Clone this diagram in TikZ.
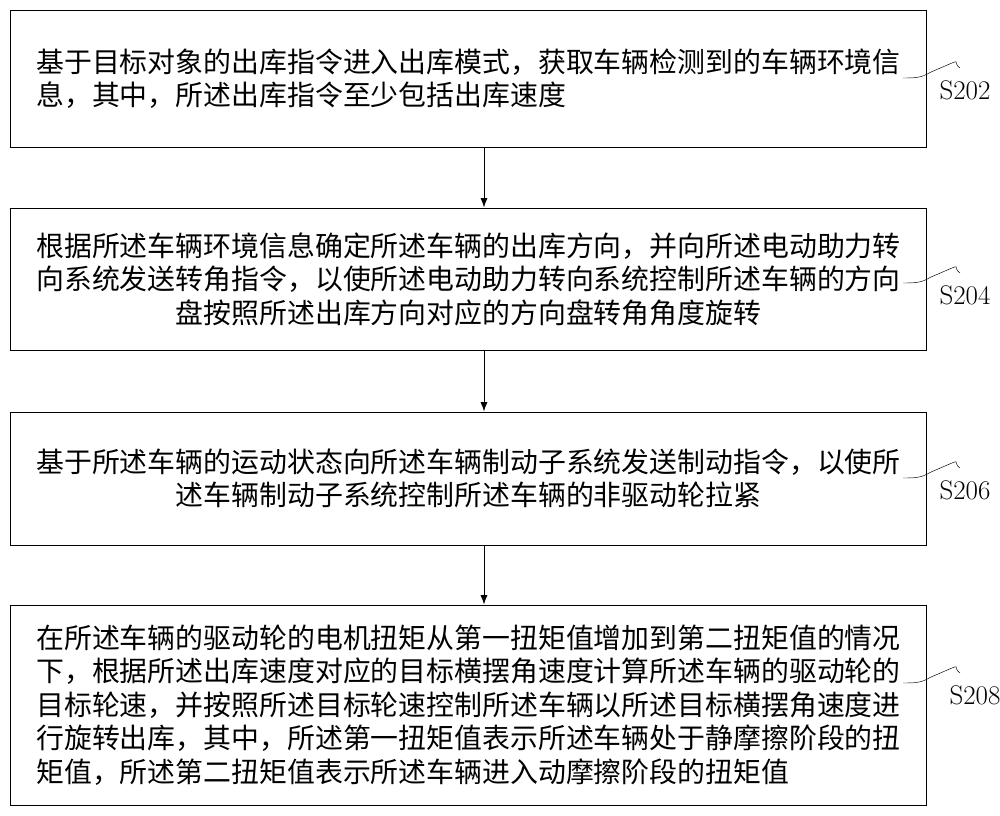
\documentclass[tikz,border=0pt]{standalone}
\usepackage{fontspec}
\newfontfamily\cjk{Noto Sans CJK SC}
\usetikzlibrary{arrows.meta,positioning}
\tikzset{
  stepbox/.style={draw, thick, minimum width=27.5cm, inner sep=0pt, font=\cjk\fontsize{23.8}{28.5}\selectfont},
  steplab/.style={font=\fontsize{23}{23}\selectfont},
  wave/.style={thin},
}
\begin{document}
\begin{tikzpicture}[x=0.03cm,y=-0.03cm]
\useasboundingbox (0,0) rectangle (1000,816);
% steps of the procedure
\node[stepbox, minimum height=4.11cm, align=left] (B1) at (468.5,78.5) {基于目标对象的出库指令进入出库模式，获取车辆检测到的车辆环境信\\息，其中，所述出库指令至少包括出库速度};
\node[stepbox, minimum height=4.26cm, align=center] (B2) at (468.5,279) {根据所述车辆环境信息确定所述车辆的出库方向，并向所述电动助力转\\向系统发送转角指令，以使所述电动助力转向系统控制所述车辆的方向\\盘按照所述出库方向对应的方向盘转角角度旋转};
\node[stepbox, minimum height=3.99cm, align=center] (B3) at (468.5,478.5) {基于所述车辆的运动状态向所述车辆制动子系统发送制动指令，以使所\\述车辆制动子系统控制所述车辆的非驱动轮拉紧};
\node[stepbox, minimum height=6cm, align=left] (B4) at (468.5,705) {在所述车辆的驱动轮的电机扭矩从第一扭矩值增加到第二扭矩值的情况\\下，根据所述出库速度对应的目标横摆角速度计算所述车辆的驱动轮的\\目标轮速，并按照所述目标轮速控制所述车辆以所述目标横摆角速度进\\行旋转出库，其中，所述第一扭矩值表示所述车辆处于静摩擦阶段的扭\\矩值，所述第二扭矩值表示所述车辆进入动摩擦阶段的扭矩值};

\draw[-{Latex[length=8pt,width=6pt]}, thick] (B1.south -| 484,0) -- (B2.north -| 484,0);
\draw[-{Latex[length=8pt,width=6pt]}, thick] (B2.south -| 484,0) -- (B3.north -| 484,0);
\draw[-{Latex[length=8pt,width=6pt]}, thick] (B3.south -| 484,0) -- (B4.north -| 484,0);

% step labels with wavy leaders
\foreach \y/\t/\lx in {78/S202/965, 283/S204/965, 478/S206/965, 683/S208/975}{
  \coordinate (w) at (903,\y);
  \draw[wave] (w) .. controls +(12,0) and +(-10,6) .. +(28,-6) .. controls +(38,-16) and +(-10,-6) .. +(57,-10);
  \node[steplab] (L\t) at (\lx,\y+12) {\t};
}
\end{tikzpicture}
\end{document}
